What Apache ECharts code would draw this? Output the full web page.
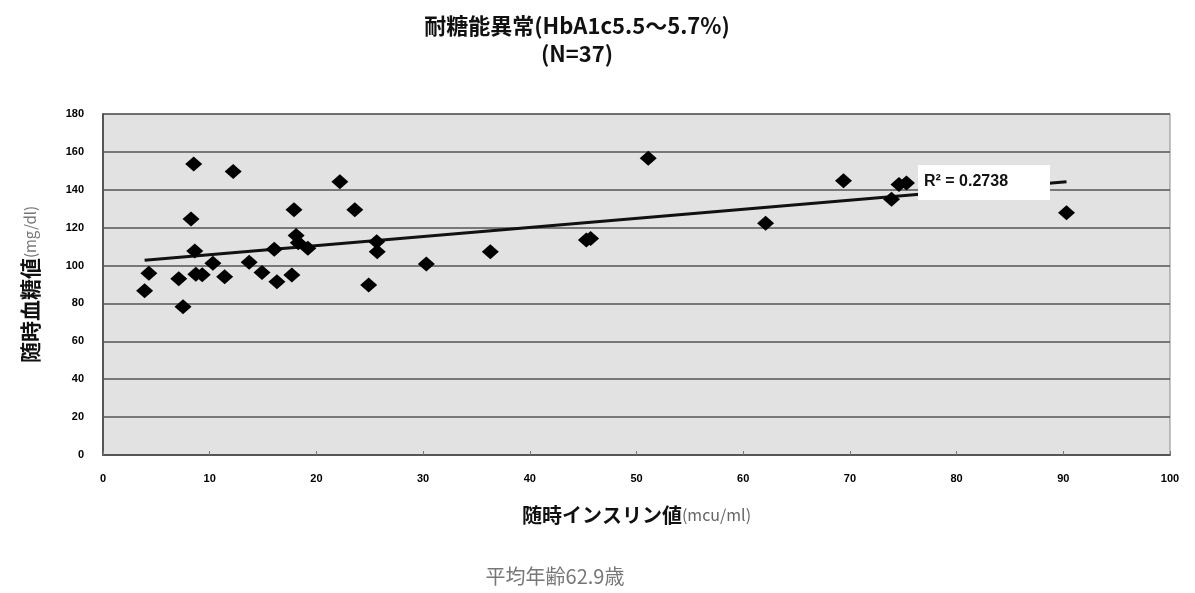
<!DOCTYPE html>
<html>
<head>
<meta charset="utf-8">
<script src="https://cdn.jsdelivr.net/npm/echarts@6/dist/echarts.min.js"></script>
<style>
html, body { margin: 0; padding: 0; background: #fff; }
#chart { width: 1195px; height: 593px; }
</style>
</head>
<body>
<div id="chart"></div>
<script>
// insulin (x) and blood glucose (y)
let insulin_values = [3.9, 4.3, 7.1, 7.5, 8.5, 8.25, 8.6, 8.7, 9.3, 10.3, 11.4, 12.2, 13.7, 14.9,
    16.05, 16.3, 17.7, 17.9, 18.1, 18.3, 19.2, 22.2, 23.6, 24.9, 25.65, 25.7, 30.3, 36.3,
    45.3, 45.7, 51.1, 62.1, 69.4, 73.9, 74.6, 75.3, 90.3];
let glucose_values = [86.7, 96, 93, 78.3, 153.6, 124.6, 107.7, 95.4, 95.2, 101.2, 94.1, 149.6, 101.7, 96.3,
    108.6, 91.5, 95, 129.4, 115.8, 112, 109.1, 144.3, 129.4, 89.8, 112.6, 107.3, 100.8, 107.3,
    113.5, 114.3, 156.7, 122.3, 144.8, 135, 142.8, 143.6, 127.9];
let r_squared_text = "R² = 0.2738";
let title_text = "耐糖能異常(HbA1c5.5～5.7%)\n(N=37)";
let x_name = "随時インスリン値";
let x_unit = "(mcu/ml)";
let y_name = "随時血糖値";
let y_unit = "(mg/dl)";
let footer_text = "平均年齢62.9歳";

// Get dom in html
let scatter_chart = echarts.init(document.getElementById("chart"));

//--------------------Trend line--------------------
let n = insulin_values.length;
let mean_x = insulin_values.reduce((a, b) => a + b, 0) / n;
let mean_y = glucose_values.reduce((a, b) => a + b, 0) / n;
let sxy = 0, sxx = 0;
for (let i = 0; i < n; i++) {
    sxy += (insulin_values[i] - mean_x) * (glucose_values[i] - mean_y);
    sxx += (insulin_values[i] - mean_x) * (insulin_values[i] - mean_x);
}
let slope = sxy / sxx;
let intercept = mean_y - slope * mean_x;
let x_min = Math.min.apply(null, insulin_values);
let x_max = Math.max.apply(null, insulin_values);
let trend_data = [[x_min, intercept + slope * x_min], [x_max, intercept + slope * x_max]];

let scatter_data = insulin_values.map((x, i) => [x, glucose_values[i]]);

let tick_label_style = {
    color: '#000',
    fontWeight: 'bold',
    fontSize: 11,
    fontFamily: 'Liberation Sans'
};

//------------------Generate Graph------------------
let scatter_chart_option = {
    backgroundColor: '#ffffff',
    animation: false,
    title: {
        text: title_text,
        left: 572,
        top: 7,
        textAlign: 'center',
        textStyle: {
            fontSize: 22,
            fontWeight: 'bold',
            color: '#111',
            lineHeight: 28,
            fontFamily: 'Noto Sans CJK JP'
        }
    },
    grid: {
        left: 103,
        right: 25,
        top: 114,
        bottom: 138,
        show: true,
        backgroundColor: '#e2e2e2',
        borderColor: '#8a8a8a',
        borderWidth: 1
    },
    xAxis: {
        type: 'value',
        min: 0,
        max: 100,
        interval: 10,
        name: '{a|' + x_name + '}{b|' + x_unit + '}',
        nameLocation: 'middle',
        nameGap: 50,
        nameTextStyle: {
            rich: {
                a: {fontSize: 20, fontWeight: 'bold', color: '#111', fontFamily: 'Noto Sans CJK JP'},
                b: {fontSize: 16, color: '#666', fontFamily: 'Noto Sans CJK JP'}
            }
        },
        splitLine: {show: false},
        axisLine: {lineStyle: {color: '#555', width: 2}},
        axisTick: {inside: true, length: 4, lineStyle: {color: '#777'}},
        axisLabel: Object.assign({margin: 18}, tick_label_style)
    },
    yAxis: {
        type: 'value',
        min: 0,
        max: 180,
        interval: 20,
        name: '{a|' + y_name + '}{b|' + y_unit + '}',
        nameLocation: 'middle',
        nameGap: 62,
        nameTextStyle: {
            rich: {
                a: {fontSize: 21, fontWeight: 'bold', color: '#111', fontFamily: 'Noto Sans CJK JP'},
                b: {fontSize: 15, color: '#777', fontFamily: 'Noto Sans CJK JP'}
            }
        },
        splitLine: {lineStyle: {color: '#555', width: 1.6}},
        axisLine: {show: true, lineStyle: {color: '#555', width: 2}},
        axisTick: {show: false},
        axisLabel: Object.assign({margin: 19}, tick_label_style)
    },
    graphic: [
        {
            type: 'rect',
            left: 918,
            top: 165,
            z: 100,
            shape: {width: 132, height: 35},
            style: {fill: '#ffffff'}
        },
        {
            type: 'text',
            left: 924,
            top: 174,
            z: 101,
            style: {
                text: r_squared_text,
                fill: '#111',
                font: 'bold 16px "Liberation Sans"'
            }
        },
        {
            type: 'text',
            x: 555,
            y: 566,
            style: {
                text: footer_text,
                fill: '#777',
                align: 'center',
                font: '20px "Noto Sans CJK JP"'
            }
        }
    ],
    series: [
        {
            type: 'line',
            data: trend_data,
            symbol: 'none',
            lineStyle: {color: '#111', width: 3},
            z: 2
        },
        {
            type: 'scatter',
            data: scatter_data,
            symbol: 'diamond',
            symbolSize: [17, 15],
            itemStyle: {color: '#000', opacity: 1},
            z: 3
        }
    ]
};
if (scatter_chart_option && typeof scatter_chart_option === "object") {
    scatter_chart.setOption(scatter_chart_option, true);
}
</script>
</body>
</html>
